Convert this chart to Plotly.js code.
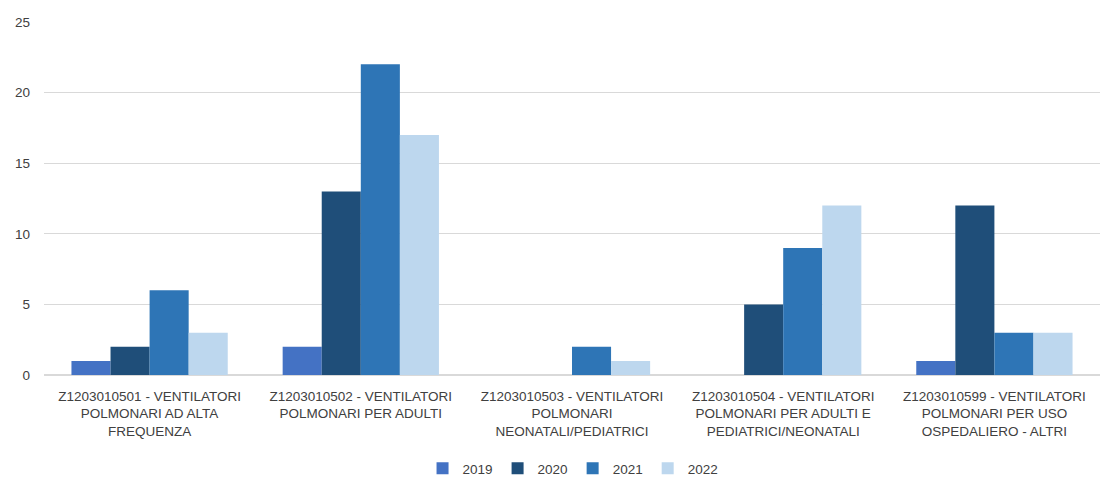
<!DOCTYPE html>
<html>
<head>
<meta charset="utf-8">
<script src="https://cdn.plot.ly/plotly-3.0.1.min.js"></script>
<style>html,body{margin:0;padding:0;background:#fff;}#chart{width:1102px;height:484px;}</style>
</head>
<body>
<div id="chart"></div>
<script>
const categories = [
  "Z1203010501 - VENTILATORI<br>POLMONARI AD ALTA<br>FREQUENZA",
  "Z1203010502 - VENTILATORI<br>POLMONARI PER ADULTI",
  "Z1203010503 - VENTILATORI<br>POLMONARI<br>NEONATALI/PEDIATRICI",
  "Z1203010504 - VENTILATORI<br>POLMONARI PER ADULTI E<br>PEDIATRICI/NEONATALI",
  "Z1203010599 - VENTILATORI<br>POLMONARI PER USO<br>OSPEDALIERO - ALTRI"
];
const seriesNames = ["2019", "2020", "2021", "2022"];
const v2019 = [1, 2, 0, 0, 1];
const v2020 = [2, 13, 0, 5, 12];
const v2021 = [6, 22, 2, 9, 3];
const v2022 = [3, 17, 1, 12, 3];
const colors = ["#4472C4", "#1F4E79", "#2E75B6", "#BDD7EE"];
const values = [v2019, v2020, v2021, v2022];

const traces = seriesNames.map((n, i) => ({
  type: "bar", name: n, x: categories, y: values[i],
  marker: {color: colors[i], line: {width: 0}},
  hoverinfo: "skip"
}));

const layout = {
  width: 1102, height: 484,
  margin: {l: 44, r: 2, t: 22, b: 109, autoexpand: false},
  paper_bgcolor: "#fff", plot_bgcolor: "#fff",
  barmode: "group", bargap: 0.26, bargroupgap: 0,
  font: {family: "Liberation Sans, Arial, sans-serif", size: 13.5, color: "#404040"},
  xaxis: {tickangle: 0, showgrid: false, showline: false, ticks: "", ticklabelstandoff: 11,
          tickfont: {size: 13.5, color: "#404040"}, automargin: false},
  yaxis: {range: [0, 25], dtick: 5, showgrid: true, gridcolor: "#D9D9D9", gridwidth: 1.3,
          zeroline: true, zerolinecolor: "#D9D9D9", zerolinewidth: 1.3,
          ticks: "", ticklen: 0, ticklabelstandoff: 13, tickfont: {size: 13.5, color: "#404040"}, automargin: false},
  showlegend: true,
  legend: {orientation: "h", x: 0.52, xanchor: "center", xref: "container", yref: "container",
           y: 0.0, yanchor: "bottom",
           font: {size: 13.5, color: "#404040"}, itemwidth: 30, traceorder: "normal"}
};
Plotly.newPlot("chart", traces, layout, {displayModeBar: false, staticPlot: true});
</script>
</body>
</html>
